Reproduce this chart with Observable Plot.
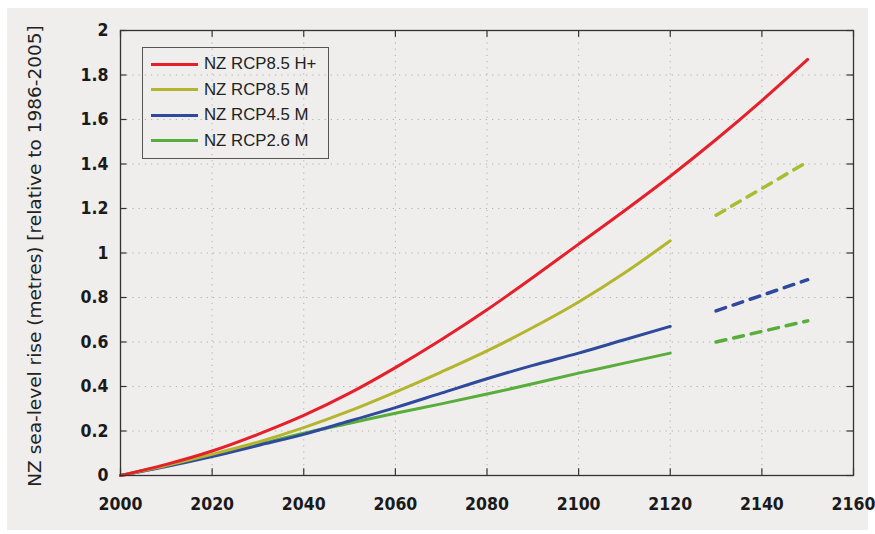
<!DOCTYPE html>
<html><head><meta charset="utf-8">
<script src="https://cdn.jsdelivr.net/npm/d3@7"></script>
<script src="https://cdn.jsdelivr.net/npm/@observablehq/plot@0.6"></script>
<style>
body{margin:0;background:#fff;}
#wrap{position:relative;width:875px;height:534px;overflow:hidden;}
#bg{position:absolute;left:7px;top:8px;width:861px;height:522px;background:#efeeed;}
#chart{position:absolute;left:0;top:0;}
#legend{position:absolute;left:142px;top:47px;width:187px;height:112px;border:1.3px solid #555;box-sizing:border-box;font-family:"Liberation Sans",Arial,sans-serif;font-size:16.8px;color:#222;}
.row{position:absolute;left:8px;height:20px;display:flex;align-items:center;white-space:nowrap;}
.sw{width:47px;height:3px;margin-right:6px;}
</style></head><body>
<div id="wrap"><div id="bg"></div><div id="chart"></div><div id="legend"></div></div>
<script>
// ---- data ----
const years = [2000,2010,2020,2030,2040,2050,2060,2070,2080,2090,2100,2110,2120];
const yearsRedExt = [2130,2140,2150];
const rcp85H = [0,0.05,0.11,0.185,0.27,0.37,0.485,0.61,0.745,0.89,1.04,1.19,1.345];
const rcp85HExt = [1.51,1.685,1.87];
const rcp85M = [0,0.045,0.095,0.15,0.215,0.29,0.375,0.465,0.56,0.665,0.78,0.91,1.055];
const rcp45M = [0,0.04,0.085,0.135,0.185,0.245,0.305,0.37,0.435,0.495,0.55,0.61,0.67];
const rcp26M = [0,0.045,0.09,0.14,0.19,0.235,0.28,0.322,0.366,0.412,0.46,0.505,0.55];
const yearsDash = [2130,2150];
const rcp85MDash = [1.17,1.41];
const rcp45MDash = [0.74,0.88];
const rcp26MDash = [0.60,0.695];
const seriesNames = ["NZ RCP8.5 H+","NZ RCP8.5 M","NZ RCP4.5 M","NZ RCP2.6 M"];
const seriesColors = ["#e5202b","#b3b52c","#2f4a9c","#58ad3b"];
const dashOliveColor = "#a4bf30";
const xTicks = [2000,2020,2040,2060,2080,2100,2120,2140,2160];
const yTicks = [0,0.2,0.4,0.6,0.8,1,1.2,1.4,1.6,1.8,2];
const yLabel = "NZ sea-level rise (metres) [relative to 1986-2005]";

// ---- build tables ----
const solid = [];
const allRedYears = years.concat(yearsRedExt);
const allRed = rcp85H.concat(rcp85HExt);
allRedYears.forEach((y,i)=>solid.push({year:y,v:allRed[i],s:seriesNames[0]}));
[rcp85M,rcp45M,rcp26M].forEach((arr,k)=>years.forEach((y,i)=>solid.push({year:y,v:arr[i],s:seriesNames[k+1]})));
const dashed = [];
[rcp85MDash,rcp45MDash,rcp26MDash].forEach((arr,k)=>yearsDash.forEach((y,i)=>dashed.push({year:y,v:arr[i],s:seriesNames[k+1]})));
const colorOf = Object.fromEntries(seriesNames.map((n,i)=>[n,seriesColors[i]]));
const dashColorOf = {...colorOf, "NZ RCP8.5 M": dashOliveColor};

const plot = Plot.plot({
  width: 875, height: 534,
  marginLeft: 120, marginRight: 22, marginTop: 30, marginBottom: 59,
  style: {background:"transparent", fontFamily:'"DejaVu Sans Condensed","DejaVu Sans",sans-serif', fontStretch:"condensed", color:"#1a1a1a"},
  x: {domain:[2000,2160]},
  y: {domain:[0,2]},
  marks: [
    Plot.gridX(xTicks, {stroke:"#888", strokeOpacity:0.6, strokeDasharray:"1.2,5"}),
    Plot.gridY(yTicks, {stroke:"#888", strokeOpacity:0.6, strokeDasharray:"1.2,5"}),
    Plot.ruleX(xTicks, {x:d=>d, y1:0, y2:0.03, stroke:"#333", strokeWidth:1.2}),
    Plot.ruleX(xTicks, {x:d=>d, y1:2, y2:1.97, stroke:"#333", strokeWidth:1.2}),
    Plot.ruleY(yTicks, {y:d=>d, x1:2000, x2:2001.4, stroke:"#333", strokeWidth:1.2}),
    Plot.ruleY(yTicks, {y:d=>d, x1:2160, x2:2158.6, stroke:"#333", strokeWidth:1.2}),
    Plot.line(dashed, {x:"year", y:"v", z:"s", stroke:d=>dashColorOf[d.s], strokeWidth:3.5, strokeDasharray:"10,8"}),
    Plot.line(solid.filter(d=>d.s!==seriesNames[0]).reverse(), {x:"year", y:"v", z:"s", stroke:d=>colorOf[d.s], strokeWidth:3, curve:"monotone-x"}),
    Plot.line(solid.filter(d=>d.s===seriesNames[0]), {x:"year", y:"v", stroke:colorOf[seriesNames[0]], strokeWidth:3, curve:"monotone-x"}),
    Plot.frame({stroke:"#333", strokeWidth:1.3}),
    Plot.axisX({ticks:xTicks, tickSize:0, tickPadding:22, tickFormat:d=>String(d), fontSize:17.5, fontWeight:"bold", label:null}),
    Plot.axisY({ticks:yTicks, tickSize:0, tickPadding:12, tickFormat:d=>String(d), fontSize:17.5, fontWeight:"bold", label:null})
  ]
});
document.getElementById("chart").appendChild(plot);
d3.select(plot).append("text")
  .attr("transform","translate(36,256) rotate(-90)")
  .attr("text-anchor","middle")
  .attr("dominant-baseline","middle")
  .attr("font-size",18.5)
  .attr("fill","#222")
  .attr("font-family",'"DejaVu Sans",sans-serif')
  .style("font-stretch","normal")
  .text(yLabel);

// legend
const leg = document.getElementById("legend");
seriesNames.forEach((n,i)=>{
  const r = document.createElement("div");
  r.className="row";
  r.style.top = (6 + i*25.5) + "px";
  const sw = document.createElement("div");
  sw.className="sw"; sw.style.background = seriesColors[i];
  const t = document.createElement("span"); t.textContent = n;
  r.appendChild(sw); r.appendChild(t); leg.appendChild(r);
});
</script>
</body></html>
